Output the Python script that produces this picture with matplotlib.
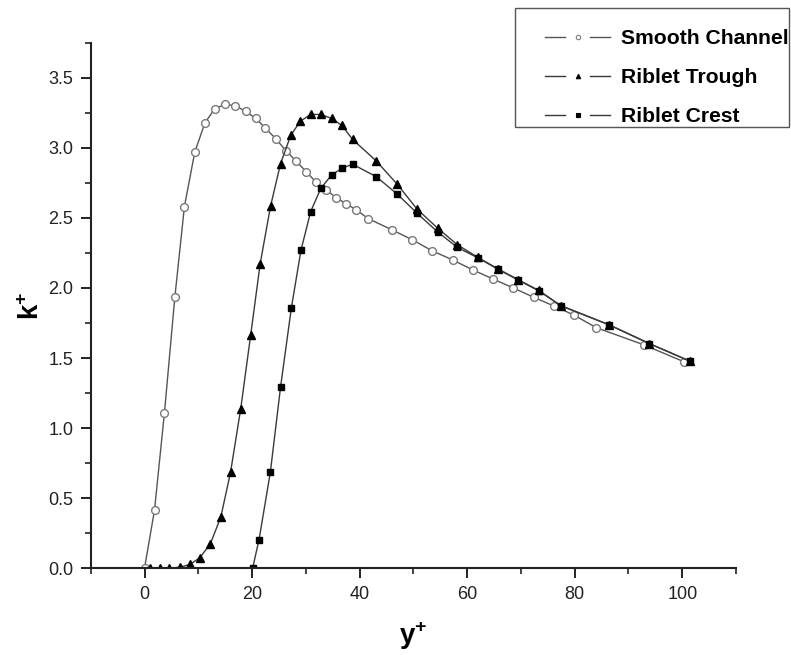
import matplotlib
matplotlib.use("Agg")
import matplotlib.pyplot as plt
from matplotlib.lines import Line2D
from matplotlib.patches import Rectangle
from matplotlib.legend_handler import HandlerBase
from matplotlib.ticker import MultipleLocator

plt.rcParams['font.family'] = ['Liberation Sans', 'DejaVu Sans']
plt.rcParams['mathtext.fontset'] = 'custom'
plt.rcParams['mathtext.rm'] = 'Liberation Sans'
plt.rcParams['mathtext.bf'] = 'Liberation Sans:bold'

# Smooth channel profile
smooth_y = [0, 1.86, 3.71, 5.64, 7.42, 9.35, 11.26, 13.1, 15.0, 16.9, 18.8, 20.7,
            22.5, 24.4, 26.3, 28.2, 30.06, 31.9, 33.8, 35.6, 37.55, 39.4, 41.6,
            46.0, 49.8, 53.5, 57.3, 61.0, 64.8, 68.6, 72.4, 76.1, 79.8, 84.0,
            92.9, 100.4]
smooth_k = [0, 0.415, 1.11, 1.933, 2.58, 2.97, 3.18, 3.28, 3.31, 3.30, 3.26, 3.21,
            3.14, 3.065, 2.98, 2.905, 2.83, 2.755, 2.70, 2.645, 2.60, 2.557, 2.495,
            2.415, 2.344, 2.265, 2.20, 2.13, 2.064, 2.0, 1.933, 1.872, 1.808, 1.717,
            1.594, 1.472]

# Riblet trough profile
trough_y = [1.1, 2.8, 4.6, 6.6, 8.5, 10.3, 12.25, 14.2, 16.0, 17.9, 19.74, 21.5,
            23.45, 25.3, 27.2, 29.0, 30.9, 32.8, 34.8, 36.7, 38.7, 43.1, 47.0,
            50.7, 54.5, 58.2, 62.0, 65.8, 69.5, 73.3, 77.4, 86.4, 93.9, 101.4]
trough_k = [0, 0, 0, 0.008, 0.028, 0.076, 0.175, 0.367, 0.685, 1.14, 1.663, 2.17,
            2.586, 2.887, 3.09, 3.19, 3.238, 3.238, 3.21, 3.16, 3.06, 2.906, 2.74,
            2.562, 2.427, 2.308, 2.218, 2.135, 2.059, 1.983, 1.874, 1.737, 1.603,
            1.478]

# Riblet crest profile
crest_y = [20.1, 21.3, 23.4, 25.3, 27.3, 29.1, 30.9, 32.8, 34.8, 36.7, 38.7, 43.1,
           46.9, 50.7, 54.5, 58.2, 62.0, 65.8, 69.5, 73.3, 77.4, 86.4, 93.9, 101.4]
crest_k = [0, 0.204, 0.685, 1.293, 1.855, 2.27, 2.545, 2.712, 2.806, 2.854, 2.883,
           2.794, 2.673, 2.533, 2.40, 2.289, 2.215, 2.132, 2.056, 1.98, 1.874,
           1.737, 1.603, 1.478]

series_labels = ['Smooth Channel', 'Riblet Trough', 'Riblet Crest']


class GappedLineHandler(HandlerBase):
    """Legend key drawn as: line segment, marker, line segment."""

    def create_artists(self, legend, orig, xdescent, ydescent, width, height,
                       fontsize, trans):
        y = height / 2 - ydescent
        x0 = -xdescent
        gap = width * 0.19
        kw = dict(color=orig.get_color(), lw=orig.get_linewidth())
        left = Line2D([x0, x0 + width / 2 - gap], [y, y], **kw)
        right = Line2D([x0 + width / 2 + gap, x0 + width], [y, y], **kw)
        mk = Line2D([x0 + width / 2], [y], linestyle='None',
                    marker=orig.get_marker(), markersize=3.2,
                    markerfacecolor=orig.get_markerfacecolor(),
                    markeredgecolor=orig.get_markeredgecolor(),
                    markeredgewidth=0.8)
        for a in (left, right, mk):
            a.set_transform(trans)
        return [left, right, mk]


W, H = 791, 655
fig = plt.figure(figsize=(W / 100, H / 100), dpi=100)
ax = fig.add_axes([0.1147, 0.1324, 0.8158, 0.8024])

line_color = '#3a3a3a'
h1, = ax.plot(smooth_y, smooth_k, color='#555555', lw=1.0, marker='o', ms=5.6,
              mfc='white', mec='#7a7a7a', mew=1.0, label=series_labels[0])
h2, = ax.plot(trough_y, trough_k, color=line_color, lw=1.0, marker='^', ms=6.2,
              mfc='black', mec='black', label=series_labels[1])
h3, = ax.plot(crest_y, crest_k, color=line_color, lw=1.0, marker='s', ms=5.0,
              mfc='black', mec='black', label=series_labels[2])

ax.set_xlim(-10, 110)
ax.set_ylim(0, 3.75)
ax.xaxis.set_major_locator(MultipleLocator(20))
ax.xaxis.set_minor_locator(MultipleLocator(10))
ax.yaxis.set_major_locator(MultipleLocator(0.5))
ax.yaxis.set_minor_locator(MultipleLocator(0.25))
ax.yaxis.set_major_formatter(plt.FormatStrFormatter('%.1f'))

for side in ('top', 'right'):
    ax.spines[side].set_visible(False)
for side in ('left', 'bottom'):
    ax.spines[side].set_linewidth(1.5)
    ax.spines[side].set_color('#222222')

ax.tick_params(which='major', direction='out', length=7.5, width=1.4,
               labelsize=13, colors='#222222', pad=5)
ax.tick_params(which='minor', direction='out', length=4.5, width=1.2,
               colors='#222222')

ax.set_xlabel(r'$\mathbf{y}^{\mathbf{+}}$', fontsize=20, labelpad=12)
ax.set_ylabel(r'$\mathbf{k}^{\mathbf{+}}$', fontsize=20, labelpad=2)

# Legend frame
fig.patches.append(Rectangle((515 / W, 1 - 127 / H), 274 / W, 119 / H,
                             transform=fig.transFigure, fill=False,
                             edgecolor='#555555', lw=1.0))

leg = fig.legend(handles=[h1, h2, h3], loc='upper left',
                 bbox_to_anchor=(545 / W, 1 - 29 / H),
                 handler_map={Line2D: GappedLineHandler()},
                 prop={'weight': 'bold', 'size': 15.2},
                 frameon=False, handlelength=3.1, handletextpad=0.5,
                 borderpad=0, labelspacing=0.95, borderaxespad=0)

fig.savefig('out.png', dpi=100)
